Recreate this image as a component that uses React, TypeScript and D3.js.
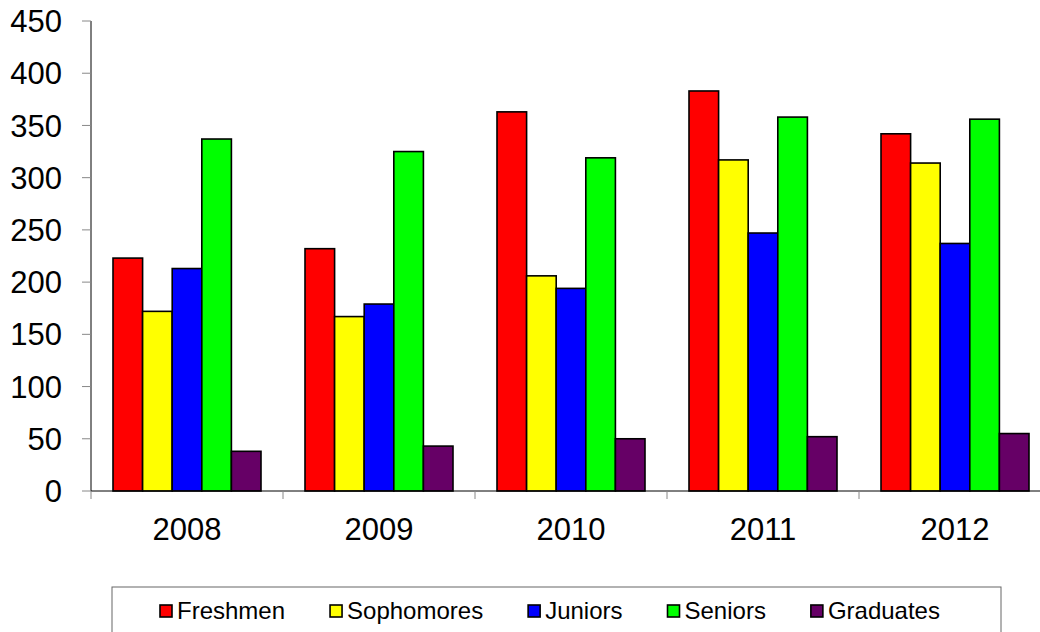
import React, { useEffect, useRef } from "react";
import * as d3 from "d3";

const years = ["2008", "2009", "2010", "2011", "2012"];
const seriesNames = ["Freshmen", "Sophomores", "Juniors", "Seniors", "Graduates"];
const freshmen = [223, 232, 363, 383, 342];
const sophomores = [172, 167, 206, 317, 314];
const juniors = [213, 179, 194, 247, 237];
const seniors = [337, 325, 319, 358, 356];
const graduates = [38, 43, 50, 52, 55];
const yTicks = [0, 50, 100, 150, 200, 250, 300, 350, 400, 450];
const colors = ["#FF0000", "#FFFF00", "#0000FF", "#00FF00", "#660066"];

const seriesValues = [freshmen, sophomores, juniors, seniors, graduates];

export default function App() {
  const ref = useRef<SVGSVGElement | null>(null);

  useEffect(() => {
    const svg = d3.select(ref.current);
    svg.selectAll("*").remove();
    const font = "'Liberation Sans', Arial, sans-serif";

    const left = 91, right = 1051, top = 21, bottom = 491;
    const x0 = d3.scaleBand<string>().domain(years).range([left, right]).padding(0);
    const groupPad = 22;
    const x1 = d3.scaleBand<string>().domain(seriesNames).range([groupPad, x0.bandwidth() - groupPad]).padding(0);
    const y = d3.scaleLinear().domain([0, 450]).range([bottom, top]);

    // bars
    seriesNames.forEach((s, si) => {
      svg.append("g")
        .selectAll("rect")
        .data(seriesValues[si])
        .join("rect")
        .attr("x", (_d, i) => (x0(years[i]) as number) + (x1(s) as number))
        .attr("y", (d) => y(d))
        .attr("width", x1.bandwidth())
        .attr("height", (d) => bottom - y(d))
        .attr("fill", colors[si])
        .attr("stroke", "#000")
        .attr("stroke-width", 1.6);
    });

    // y axis
    const ya = svg.append("g");
    ya.append("line").attr("x1", left).attr("x2", left).attr("y1", top).attr("y2", bottom)
      .attr("stroke", "#000").attr("stroke-width", 1);
    ya.selectAll("line.tick").data(yTicks).join("line").attr("class", "tick")
      .attr("x1", left - 9).attr("x2", left).attr("y1", (d) => y(d)).attr("y2", (d) => y(d))
      .attr("stroke", "#888").attr("stroke-width", 1);
    ya.selectAll("text").data(yTicks).join("text")
      .attr("x", 62).attr("y", (d) => y(d)).attr("dy", "0.36em")
      .attr("text-anchor", "end").attr("font-family", font).attr("font-size", 31)
      .attr("fill", "#000").text((d) => String(d));

    // x axis
    const xa = svg.append("g");
    xa.append("line").attr("x1", left).attr("x2", right).attr("y1", bottom).attr("y2", bottom)
      .attr("stroke", "#000").attr("stroke-width", 1);
    const bounds = years.map((yr) => x0(yr) as number).concat([right]);
    xa.selectAll("line.tick").data(bounds).join("line").attr("class", "tick")
      .attr("x1", (d) => d).attr("x2", (d) => d).attr("y1", bottom).attr("y2", bottom + 8)
      .attr("stroke", "#888").attr("stroke-width", 1);
    xa.selectAll("text").data(years).join("text")
      .attr("x", (d) => (x0(d) as number) + x0.bandwidth() / 2).attr("y", 540)
      .attr("text-anchor", "middle").attr("font-family", font).attr("font-size", 31)
      .attr("fill", "#000").text((d) => d);

    // legend
    const lg = svg.append("g");
    lg.append("rect").attr("x", 112).attr("y", 587).attr("width", 889).attr("height", 60)
      .attr("fill", "#fff").attr("stroke", "#666").attr("stroke-width", 1);
    let cx = 159;
    seriesNames.forEach((s, si) => {
      lg.append("rect").attr("x", cx + 1).attr("y", 605).attr("width", 12).attr("height", 12)
        .attr("fill", colors[si]).attr("stroke", "#000").attr("stroke-width", 1.6);
      const t = lg.append("text").attr("x", cx + 18).attr("y", 619)
        .attr("font-family", font).attr("font-size", 24).attr("fill", "#000").text(s);
      const w = (t.node() as SVGTextElement).getComputedTextLength();
      cx = cx + 18 + w + 44;
    });
  }, []);

  return (
    <svg ref={ref} width={1040} height={632}
      style={{ position: "absolute", left: 0, top: 0, background: "#fff" }} />
  );
}
